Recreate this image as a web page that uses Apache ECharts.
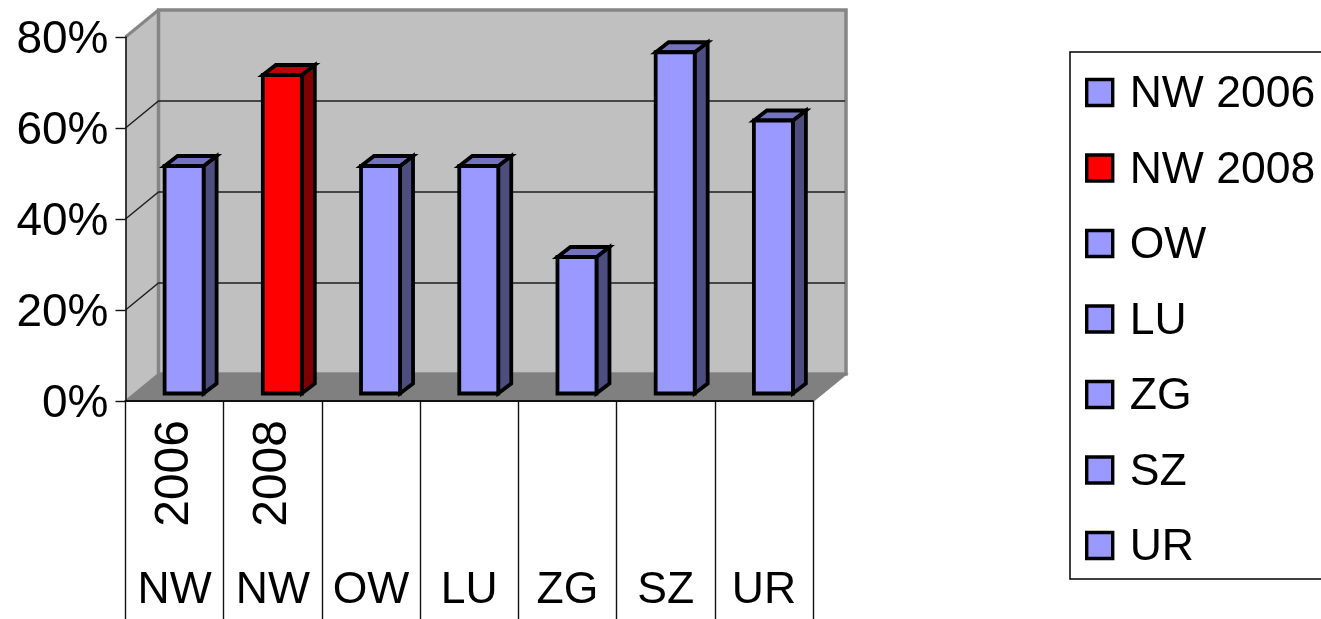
<!DOCTYPE html>
<html>
<head>
<meta charset="utf-8">
<style>html,body{margin:0;padding:0;background:#fff;overflow:hidden}#c{width:1321px;height:619px}</style>
<script src="https://cdn.jsdelivr.net/npm/echarts@6/dist/echarts.min.js"></script>
</head>
<body>
<div id="c"></div>
<script>
const seriesNames = ['NW 2006', 'NW 2008', 'OW', 'LU', 'ZG', 'SZ', 'UR'];
const yearLabels = ['2006', '2008', '', '', '', '', ''];
const regionLabels = ['NW', 'NW', 'OW', 'LU', 'ZG', 'SZ', 'UR'];
const values = [50, 70, 50, 50, 30, 75, 60];
const gridTicks = [20, 40, 60];

const FONT = '"Liberation Sans", Arial, sans-serif';
const WALL_DX = 33, WALL_DY = 27;
const BAR_W = 39, BAR_DX = 13, BAR_DY = 10, BAR_SHIFT_X = 9.5, BAR_SHIFT_Y = 7.5;
const blue = {front: '#9999ff', top: '#7373bf', side: '#4d4d80'};
const red = {front: '#ff0000', top: '#bf0000', side: '#800000'};
const palette = [blue, red, blue, blue, blue, blue, blue];

function poly(points, fill, stroke, lineWidth) {
  return {type: 'polygon', shape: {points}, silent: true,
    style: {fill, stroke: stroke || null, lineWidth: lineWidth || 0, lineJoin: 'miter'}};
}

function renderWalls(params) {
  const r = params.coordSys, x0 = r.x, x1 = r.x + r.width, yT = r.y, yB = r.y + r.height;
  const dx = WALL_DX, dy = WALL_DY;
  return {type: 'group', children: [
    poly([[x0, yT], [x0 + dx, yT - dy], [x0 + dx, yB - dy], [x0, yB]], '#c0c0c0'),
    poly([[x0 + dx, yT - dy], [x1 + dx, yT - dy], [x1 + dx, yB - dy], [x0 + dx, yB - dy]], '#c0c0c0', '#858585', 3.5),
    {type: 'line', silent: true, shape: {x1: x0, y1: yT, x2: x0 + dx, y2: yT - dy}, style: {stroke: '#858585', lineWidth: 3}}
  ]};
}

function renderGrid(params, api) {
  const r = params.coordSys, p = api.coord([0, api.value(1)]);
  const x0 = r.x, x1 = r.x + r.width, y = p[1];
  return {type: 'polyline', silent: true,
    shape: {points: [[x0, y], [x0 + WALL_DX, y - WALL_DY], [x1 + WALL_DX - 1, y - WALL_DY]]},
    style: {fill: null, stroke: '#1e1e1e', lineWidth: 1.4}};
}

function renderFloor(params) {
  const r = params.coordSys, x0 = r.x, x1 = r.x + r.width, y = r.y + r.height;
  return poly([[x0, y], [x0 + WALL_DX, y - WALL_DY], [x1 + WALL_DX, y - WALL_DY], [x1, y]], '#808080', '#808080', 2);
}

function renderBar(params, api) {
  const c = palette[params.seriesIndex - 3];
  const top = api.coord([api.value(0), api.value(1)]);
  const base = api.coord([api.value(0), 0]);
  const l = top[0] + BAR_SHIFT_X - BAR_W / 2, w = l + BAR_W;
  const t = top[1] - BAR_SHIFT_Y, b = base[1] - BAR_SHIFT_Y;
  const dx = BAR_DX, dy = BAR_DY, lw = 3.8;
  return {type: 'group', children: [
    poly([[w, t], [w + dx, t - dy], [w + dx, b - dy], [w, b]], c.side, '#000', lw),
    poly([[l, t], [l + dx, t - dy], [w + dx, t - dy], [w, t]], c.top, '#000', lw),
    poly([[l, t], [w, t], [w, b], [l, b]], c.front, '#000', lw)
  ]};
}

const series = [
  {type: 'custom', name: '_walls', silent: true, clip: false, z: 1, data: [[0, 0]], renderItem: renderWalls},
  {type: 'custom', name: '_floor', silent: true, clip: false, z: 2, data: [[0, 0]], renderItem: renderFloor},
  {type: 'custom', name: '_grid', silent: true, clip: false, z: 3, encode: {x: 0, y: 1},
    data: gridTicks.map(v => [0, v]), renderItem: renderGrid}
];
seriesNames.forEach((name, i) => {
  series.push({type: 'custom', name, clip: false, z: 6 + i, silent: true,
    encode: {x: 0, y: 1}, itemStyle: {color: palette[i].front},
    data: [[i, values[i]]], renderItem: renderBar});
});

const chart = echarts.init(document.getElementById('c'), null, {renderer: 'canvas'});
chart.setOption({
  animation: false,
  backgroundColor: '#fff',
  grid: {left: 125.5, right: 508, top: 37, bottom: 218, containLabel: false},
  xAxis: [
    {type: 'category', data: yearLabels, position: 'bottom', z: 5, boundaryGap: true,
      axisLine: {show: true, lineStyle: {color: '#111', width: 2.2}},
      axisTick: {show: true, length: 218, lineStyle: {color: '#111', width: 1.4}},
      axisLabel: {interval: 0, rotate: 90, margin: 19, hideOverlap: false, fontFamily: FONT, fontSize: 48, color: '#000'},
      splitLine: {show: false}},
    {type: 'category', data: regionLabels, position: 'bottom', z: 5, boundaryGap: true,
      axisLine: {show: false}, axisTick: {show: false},
      axisLabel: {interval: 0, margin: 167, hideOverlap: false, fontFamily: FONT, fontSize: 44.5, color: '#000'},
      splitLine: {show: false}}
  ],
  yAxis: {type: 'value', min: 0, max: 80, interval: 20, z: 5,
    axisLine: {show: true, lineStyle: {color: '#111', width: 1.6}},
    axisTick: {show: true, length: 10, lineStyle: {color: '#111', width: 1.4}},
    axisLabel: {margin: 17, color: '#000', formatter: '{a|{value}%}',
      rich: {a: {fontFamily: FONT, fontSize: 46, color: '#000', padding: [6, 0, 0, 0]}}},
    splitLine: {show: false}},
  legend: {
    orient: 'vertical', left: 1070, top: 52, icon: 'rect', selectedMode: false,
    data: seriesNames,
    backgroundColor: '#fff', borderColor: '#000', borderWidth: 1.5,
    padding: [15.5, 40, 8.5, 15], itemWidth: 26, itemHeight: 26, itemGap: 25.5,
    itemStyle: {borderColor: '#000', borderWidth: 3.4},
    formatter: '{a|{name}}',
    textStyle: {rich: {a: {fontFamily: FONT, fontSize: 44.5, lineHeight: 44, color: '#000', padding: [5, 0, 0, 12]}}}
  },
  series
});
</script>
</body>
</html>
